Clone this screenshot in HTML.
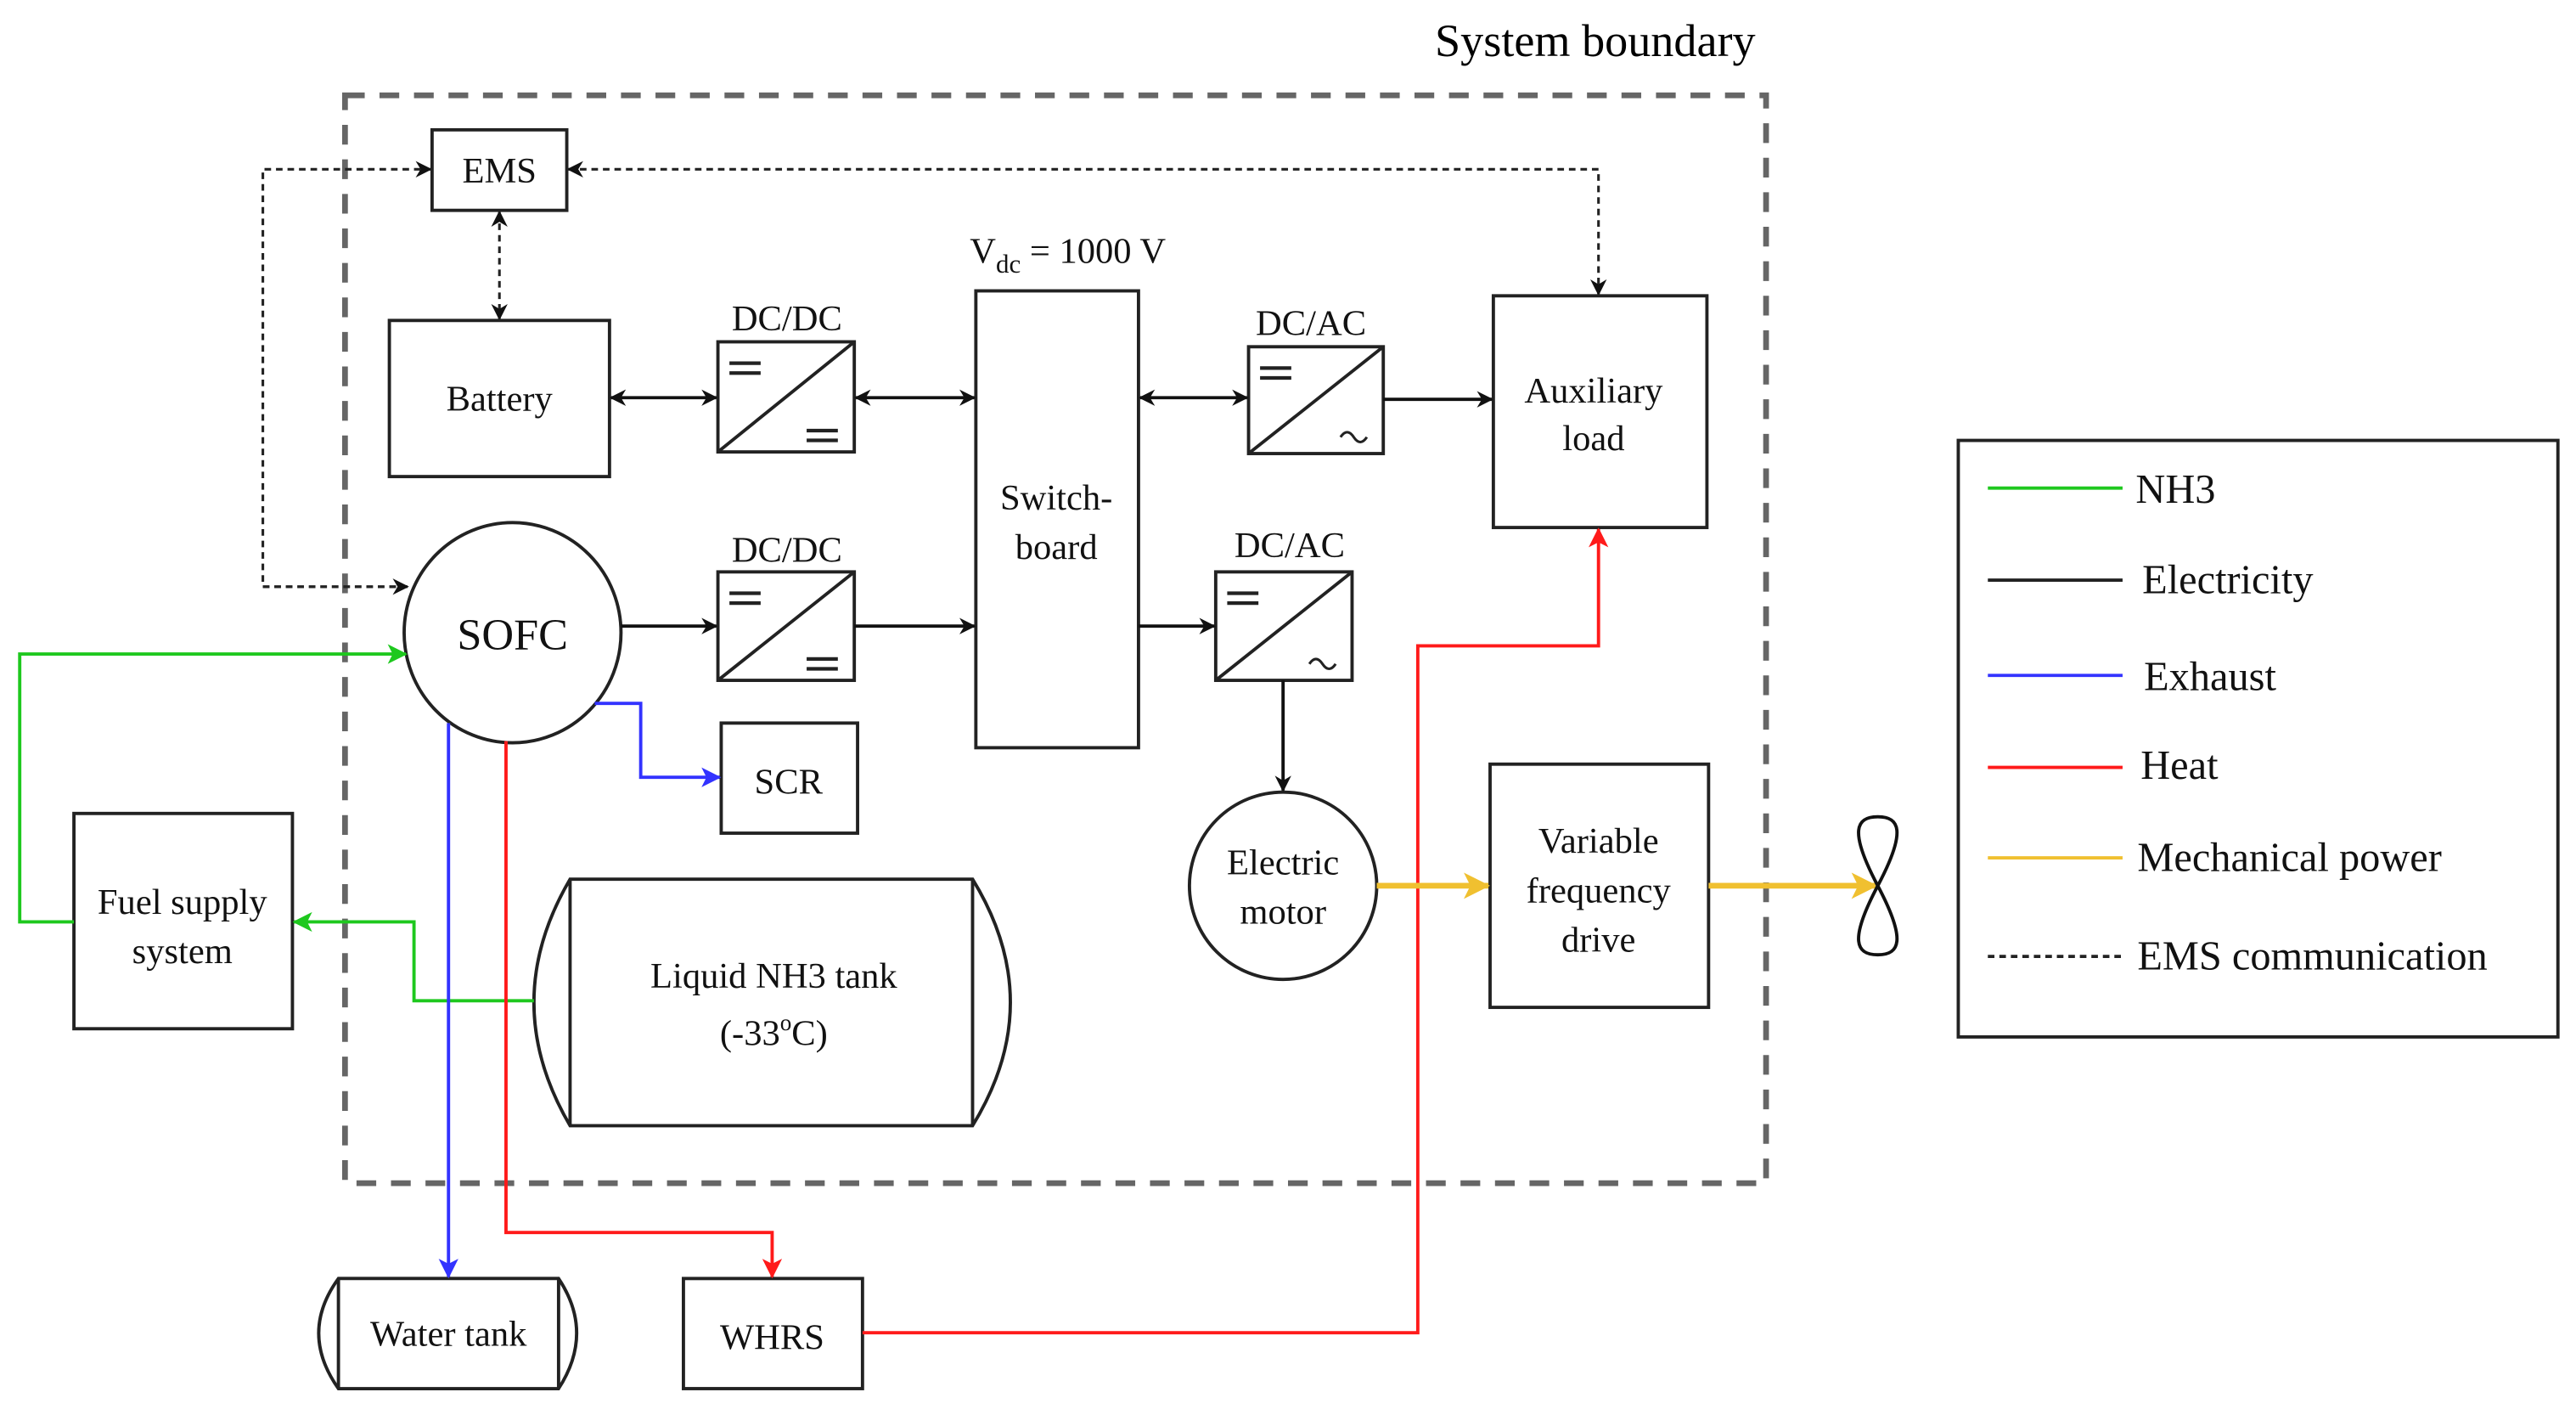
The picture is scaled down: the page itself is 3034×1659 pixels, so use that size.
<!DOCTYPE html>
<html><head><meta charset="utf-8"><style>html,body{margin:0;padding:0;background:#fff}svg{display:block}</style></head><body>
<svg width="3034" height="1659" viewBox="0 0 1568 857.4" preserveAspectRatio="none" xmlns="http://www.w3.org/2000/svg" font-family="'Liberation Serif', serif">
<defs>
<marker id="ak" markerWidth="10" markerHeight="10" refX="9" refY="5" orient="auto" markerUnits="userSpaceOnUse"><path d="M0,0 L10,5 L0,10 L3,5 z" fill="#111"/></marker>
<marker id="aks" markerWidth="10" markerHeight="10" refX="1" refY="5" orient="auto" markerUnits="userSpaceOnUse"><path d="M10,0 L0,5 L10,10 L7,5 z" fill="#111"/></marker>
<marker id="ag" markerWidth="12" markerHeight="12" refX="11" refY="6" orient="auto" markerUnits="userSpaceOnUse"><path d="M0,0 L12,6 L0,12 L3,6 z" fill="#1ec81e"/></marker>
<marker id="ab" markerWidth="12" markerHeight="12" refX="11" refY="6" orient="auto" markerUnits="userSpaceOnUse"><path d="M0,0 L12,6 L0,12 L3,6 z" fill="#3333ff"/></marker>
<marker id="ar" markerWidth="12" markerHeight="12" refX="11" refY="6" orient="auto" markerUnits="userSpaceOnUse"><path d="M0,0 L12,6 L0,12 L3,6 z" fill="#ff1a1a"/></marker>
<marker id="ay" markerWidth="16" markerHeight="16" refX="15" refY="8" orient="auto" markerUnits="userSpaceOnUse"><path d="M0,0 L16,8 L0,16 L4,8 z" fill="#f0c030"/></marker>
</defs>
<g fill="none">
<rect x="210" y="58" width="865" height="662" stroke="#666" stroke-width="3.5" stroke-dasharray="12,9"/>
</g>
<text x="971" y="34" font-size="28" text-anchor="middle">System boundary</text>

<g stroke="#222" stroke-width="1.6" fill="none" stroke-dasharray="4,3">
<path d="M248,357 H160 V103 H262" marker-end="url(#ak)"/>
<path d="M160,357 H248" marker-end="url(#ak)"/>
<path d="M346,103 H973 V179" marker-start="url(#aks)" marker-end="url(#ak)"/>
<path d="M304,129 V194" marker-start="url(#aks)" marker-end="url(#ak)"/>
</g>

<g stroke="#222" stroke-width="2" fill="#fff">
<rect x="263" y="79" width="82" height="49"/>
<rect x="237" y="195" width="134" height="95"/>
<rect x="594" y="177" width="99" height="278"/>
<rect x="909" y="180" width="130" height="141"/>
<rect x="439" y="440" width="83" height="67"/>
<rect x="907" y="465" width="133" height="148"/>
<rect x="1192" y="268" width="365" height="363"/>
<rect x="45" y="495" width="133" height="131"/>
<rect x="416" y="778" width="109" height="67"/>
<ellipse cx="312" cy="385" rx="66" ry="67"/>
<ellipse cx="781" cy="539" rx="57" ry="57"/>
</g>

<g stroke="#222" stroke-width="2" fill="#fff">
<rect x="437" y="208" width="83" height="67"/><path d="M437,275 L520,208"/>
<rect x="437" y="348" width="83" height="66"/><path d="M437,414 L520,348"/>
<rect x="760" y="211" width="82" height="65"/><path d="M760,276 L842,211"/>
<rect x="740" y="348" width="83" height="66"/><path d="M740,414 L823,348"/>
</g>
<g stroke="#222" stroke-width="2.2">
<path d="M444,221 H463 M444,227 H463 M491,262 H510 M491,268 H510"/>
<path d="M444,361 H463 M444,367 H463 M491,401 H510 M491,407 H510"/>
<path d="M767,224 H786 M767,230 H786"/>
<path d="M747,361 H766 M747,367 H766"/>
</g>
<g stroke="#222" stroke-width="1.6" fill="none">
<path d="M816,266 q4,-6 8,0 t8,0"/>
<path d="M797,404 q4,-6 8,0 t8,0"/>
</g>

<g stroke="#222" stroke-width="2" fill="#fff">
<path d="M347,535 H592 Q638,610 592,685 H347 Q303,610 347,535 z"/>
<path d="M347,535 V685 M592,535 V685" fill="none"/>
<path d="M206,778 H340 Q362,811 340,845 H206 Q182,811 206,778 z"/>
<path d="M206,778 V845 M340,778 V845" fill="none"/>
</g>

<g stroke="#111" stroke-width="2" fill="none">
<path d="M372,242 H436" marker-start="url(#aks)" marker-end="url(#ak)"/>
<path d="M521,242 H593" marker-start="url(#aks)" marker-end="url(#ak)"/>
<path d="M694,242 H759" marker-start="url(#aks)" marker-end="url(#ak)"/>
<path d="M842,243 H908" marker-end="url(#ak)"/>
<path d="M378,381 H436" marker-end="url(#ak)"/>
<path d="M520,381 H593" marker-end="url(#ak)"/>
<path d="M693,381 H739" marker-end="url(#ak)"/>
<path d="M781,414 V481" marker-end="url(#ak)"/>
</g>
<g stroke="#1ec81e" stroke-width="2" fill="none">
<path d="M45,561 H12 V398 H247" marker-end="url(#ag)"/>
<path d="M325,609 H252 V561 H179" marker-end="url(#ag)"/>
</g>
<g stroke="#3333ff" stroke-width="2" fill="none">
<path d="M273,440 V777" marker-end="url(#ab)"/>
<path d="M362,428 H390 V473 H438" marker-end="url(#ab)"/>
</g>
<g stroke="#ff1a1a" stroke-width="2" fill="none">
<path d="M308,451 V750 H470 V777" marker-end="url(#ar)"/>
<path d="M525,811 H863 V393 H973 V322" marker-end="url(#ar)"/>
</g>
<g stroke="#f0c030" stroke-width="3.5" fill="none">
<path d="M838,539 H906" marker-end="url(#ay)"/>
<path d="M1040,539 H1142" marker-end="url(#ay)"/>
</g>
<g stroke="#111" stroke-width="2" fill="none">
<path d="M1143,539 C1125,505 1130,497 1143,497 C1156,497 1161,505 1143,539 C1125,573 1130,581 1143,581 C1156,581 1161,573 1143,539 z"/>
</g>

<g font-size="22" text-anchor="middle" fill="#111">
<text x="304" y="111">EMS</text>
<text x="304" y="250">Battery</text>
<text x="479" y="201">DC/DC</text>
<text x="479" y="342">DC/DC</text>
<text x="798" y="204">DC/AC</text>
<text x="785" y="339">DC/AC</text>
<text x="643" y="310">Switch-</text>
<text x="643" y="340">board</text>
<text x="970" y="245">Auxiliary</text>
<text x="970" y="274">load</text>
<text x="312" y="395" font-size="27">SOFC</text>
<text x="480" y="483">SCR</text>
<text x="781" y="532">Electric</text>
<text x="781" y="562">motor</text>
<text x="973" y="519">Variable</text>
<text x="973" y="549">frequency</text>
<text x="973" y="579">drive</text>
<text x="111" y="556">Fuel supply</text>
<text x="111" y="586">system</text>
<text x="471" y="601">Liquid NH3 tank</text>
<text x="471" y="636">(-33<tspan font-size="14" dy="-9">o</tspan><tspan dy="9">C)</tspan></text>
<text x="273" y="819">Water tank</text>
<text x="470" y="821">WHRS</text>
<text x="650" y="160">V<tspan font-size="16" dy="6">dc</tspan><tspan dy="-6"> = 1000 V</tspan></text>
</g>

<g stroke-width="2">
<path d="M1210,297 H1292" stroke="#1ec81e"/>
<path d="M1210,353 H1292" stroke="#222"/>
<path d="M1210,411 H1292" stroke="#3333ff"/>
<path d="M1210,467 H1292" stroke="#ff1a1a"/>
<path d="M1210,522 H1292" stroke="#f0c030"/>
<path d="M1210,582 H1292" stroke="#222" stroke-dasharray="4,3"/>
</g>
<g font-size="25" fill="#111">
<text x="1300" y="306">NH3</text>
<text x="1304" y="361">Electricity</text>
<text x="1305" y="420">Exhaust</text>
<text x="1303" y="474">Heat</text>
<text x="1301" y="530">Mechanical power</text>
<text x="1301" y="590">EMS communication</text>
</g>
</svg>
</body></html>
